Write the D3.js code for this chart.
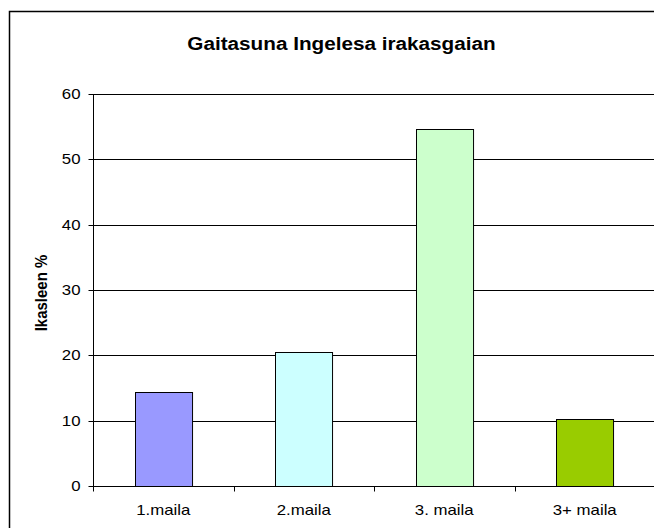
<!DOCTYPE html>
<html>
<head>
<meta charset="utf-8">
<script src="https://cdn.jsdelivr.net/npm/d3@7"></script>
<style>
  body { margin: 0; background: #fff; }
  svg { display: block; font-family: "Liberation Sans", Arial, sans-serif; }
</style>
</head>
<body>
<div id="chart"></div>
<script>
// chart data
var categories = ["1.maila", "2.maila", "3. maila", "3+ maila"];
var values = [14.4, 20.5, 54.7, 10.2];
var colors = ["#9999FF", "#CCFFFF", "#CCFFCC", "#99CC00"];
var yTicks = [0, 10, 20, 30, 40, 50, 60];
var title = "Gaitasuna Ingelesa irakasgaian";
var yTitle = "Ikasleen %";

var W = 654, H = 528;
var margin = { top: 94, right: -1, bottom: 42, left: 93 };
var width = W - margin.left - margin.right,
    height = H - margin.top - margin.bottom;
var sx = 1.2; // the original picture is stretched a bit horizontally

var svg = d3.select("#chart").append("svg")
    .attr("width", W)
    .attr("height", H);

// outer frame (cut at right and bottom like the picture)
svg.append("rect")
    .attr("x", 9.5).attr("y", 11.5)
    .attr("width", 700).attr("height", 600)
    .attr("fill", "none")
    .attr("stroke", "#000")
    .attr("stroke-width", 1.5);

// title
svg.append("text")
    .attr("transform", "translate(341.5,50) scale(1.12,1)")
    .attr("text-anchor", "middle")
    .style("font-size", "18.5px")
    .style("font-weight", "bold")
    .text(title);

var g = svg.append("g")
    .attr("transform", "translate(" + margin.left + "," + margin.top + ")");

var x = d3.scaleBand().domain(categories).range([0, width]);
var xb = d3.scaleBand().domain(categories).range([0, width])
    .paddingInner(0.594).paddingOuter(0.297);
var y = d3.scaleLinear().domain([0, 60]).range([height, 0]);

// gridlines
g.selectAll(".grid")
    .data(yTicks.slice(1))
    .enter().append("line")
    .attr("x1", 0).attr("x2", width)
    .attr("y1", function(d) { return Math.round(y(d)) + 0.5; })
    .attr("y2", function(d) { return Math.round(y(d)) + 0.5; })
    .attr("stroke", "#000")
    .attr("stroke-width", 1);

// bars
g.selectAll(".bar")
    .data(values)
    .enter().append("rect")
    .attr("class", "bar")
    .attr("x", function(d, i) { return Math.round(xb(categories[i])) + 0.5; })
    .attr("width", xb.bandwidth())
    .attr("y", function(d) { return Math.round(y(d)) + 0.5; })
    .attr("height", function(d) { return height - Math.round(y(d)); })
    .attr("fill", function(d, i) { return colors[i]; })
    .attr("stroke", "#000")
    .attr("stroke-width", 1);

// y axis
var yAxis = g.append("g")
    .attr("transform", "translate(0.5,0)");
yAxis.append("line")
    .attr("x1", 0).attr("x2", 0)
    .attr("y1", 0).attr("y2", height)
    .attr("stroke", "#000");
yAxis.selectAll(".ytick")
    .data(yTicks)
    .enter().append("line")
    .attr("x1", -5).attr("x2", 0)
    .attr("y1", function(d) { return Math.round(y(d)) + 0.5; })
    .attr("y2", function(d) { return Math.round(y(d)) + 0.5; })
    .attr("stroke", "#000");
yAxis.selectAll(".ylab")
    .data(yTicks)
    .enter().append("text")
    .attr("transform", function(d) { return "translate(-13," + (y(d) + 5) + ") scale(" + sx + ",1)"; })
    .attr("text-anchor", "end")
    .style("font-size", "14px")
    .text(function(d) { return d; });

// x axis
var xAxis = g.append("g")
    .attr("transform", "translate(0," + (height + 0.5) + ")");
xAxis.append("line")
    .attr("x1", 0).attr("x2", width)
    .attr("stroke", "#000");
xAxis.selectAll(".xtick")
    .data(categories)
    .enter().append("line")
    .attr("x1", function(d) { return Math.round(x(d)) + 0.5; })
    .attr("x2", function(d) { return Math.round(x(d)) + 0.5; })
    .attr("y1", 0).attr("y2", 5)
    .attr("stroke", "#000");
xAxis.selectAll(".xlab")
    .data(categories)
    .enter().append("text")
    .attr("transform", function(d) { return "translate(" + (x(d) + x.bandwidth() / 2) + ",28) scale(" + sx + ",1)"; })
    .attr("text-anchor", "middle")
    .style("font-size", "14px")
    .text(function(d) { return d; });

// y axis title
svg.append("text")
    .attr("transform", "translate(47,293) rotate(-90) scale(1,1.15)")
    .attr("text-anchor", "middle")
    .style("font-size", "15px")
    .style("font-weight", "bold")
    .text(yTitle);
</script>
</body>
</html>
